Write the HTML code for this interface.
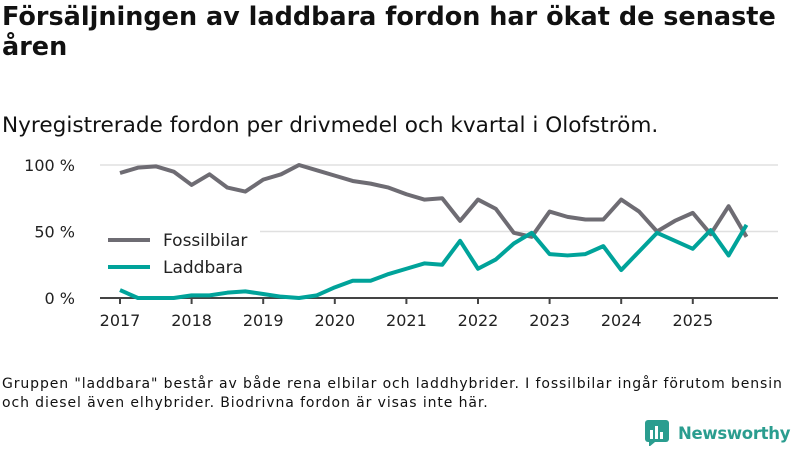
<!DOCTYPE html>
<html><head><meta charset="utf-8"><style>
body{margin:0;width:800px;height:450px;background:#fff;font-family:"Liberation Sans","DejaVu Sans",sans-serif;overflow:hidden;position:relative;color:#111}
h1{position:absolute;left:2px;top:2px;margin:0;font-size:25.5px;line-height:30px;font-weight:bold;font-family:"DejaVu Sans",sans-serif;width:795px}
.sub{position:absolute;left:2px;top:113px;font-size:21.6px;font-family:"DejaVu Sans",sans-serif}
.note{position:absolute;left:2px;top:375px;font-size:14px;line-height:19px;font-family:"DejaVu Sans",sans-serif;letter-spacing:0.9px;white-space:nowrap}
.logo{position:absolute;left:645px;top:420px;display:flex;align-items:center;gap:9px;color:#2a9d8f;font-weight:bold;font-size:16.5px;letter-spacing:-0.3px;font-family:"DejaVu Sans",sans-serif}
svg text{font-family:"DejaVu Sans",sans-serif;font-size:16px;fill:#222}
</style></head><body>
<h1>Försäljningen av laddbara fordon har ökat de senaste åren</h1>
<div class="sub">Nyregistrerade fordon per drivmedel och kvartal i Olofström.</div>
<svg id="chart" width="800" height="450" style="position:absolute;left:0;top:0"></svg>
<div class="note">Gruppen "laddbara" består av både rena elbilar och laddhybrider. I fossilbilar ingår förutom bensin<br>och diesel även elhybrider. Biodrivna fordon är visas inte här.</div>
<div class="logo"><svg width="24" height="26"><rect x="0" y="0" width="24" height="22" rx="3" fill="#2a9d8f"/><polygon points="4,22 10,22 4,27" fill="#2a9d8f"/><rect x="5" y="10" width="3" height="9" fill="#fff"/><rect x="10" y="6" width="3" height="13" fill="#fff"/><rect x="15" y="12" width="3" height="7" fill="#fff"/></svg>Newsworthy</div>
<script>
const years=[2017,2018,2019,2020,2021,2022,2023,2024,2025];
const yTicks=[0,50,100];
const fossil=[94,98,99,95,85,93,83,80,89,93,100,96,92,88,86,83,78,74,75,58,74,67,49,46,65,61,59,59,74,65,50,58,64,48,69,46];
const laddbara=[6,0,0,0,2,2,4,5,3,1,0,2,8,13,13,18,22,26,25,43,22,29,41,49,33,32,33,39,21,35,49,43,37,51,32,55];
const svg=document.getElementById('chart');const NS='http://www.w3.org/2000/svg';
const x=t=>120+(t-2017)*71.6;const y=v=>298-v*1.33;
function el(tag,a,p){const e=document.createElementNS(NS,tag);for(const k in a)e.setAttribute(k,a[k]);(p||svg).appendChild(e);return e;}
yTicks.forEach(v=>{
const g=el('line',{x1:100,x2:778,y1:y(v),y2:y(v),stroke:'#e0e0e0','stroke-width':1.5});


const t=el('text',{x:75,y:y(v)+6,'text-anchor':'end'});t.textContent=v+' %';


});
const ax=el('line',{x1:100,x2:778,y1:298,y2:298,stroke:'#444','stroke-width':2});


years.forEach(yr=>{
el('line',{x1:x(yr),x2:x(yr),y1:298,y2:304,stroke:'#444','stroke-width':2});
const t=el('text',{x:x(yr),y:326,'text-anchor':'middle'});t.textContent=yr;


});
function series(d,c,n){const p=el('polyline',{points:d.map((v,i)=>x(2017+i/4)+','+y(v)).join(' '),fill:'none',stroke:c,'stroke-width':4,'stroke-linejoin':'round'});

}
series(fossil,'#6e6c73','fossilbilar-line');
series(laddbara,'#00a39a','laddbara-line');
const lg=el('g',{});


el('rect',{x:100,y:228,width:160,height:56,fill:'#fff'},lg);
[['Fossilbilar','#6e6c73',240],['Laddbara','#00a39a',267]].forEach(([n,c,yy])=>{
el('line',{x1:108,x2:150,y1:yy,y2:yy,stroke:c,'stroke-width':4},lg);
const t=el('text',{x:163,y:yy+6,style:'font-size:17px'},lg);t.textContent=n;


});
</script>
</body></html>
